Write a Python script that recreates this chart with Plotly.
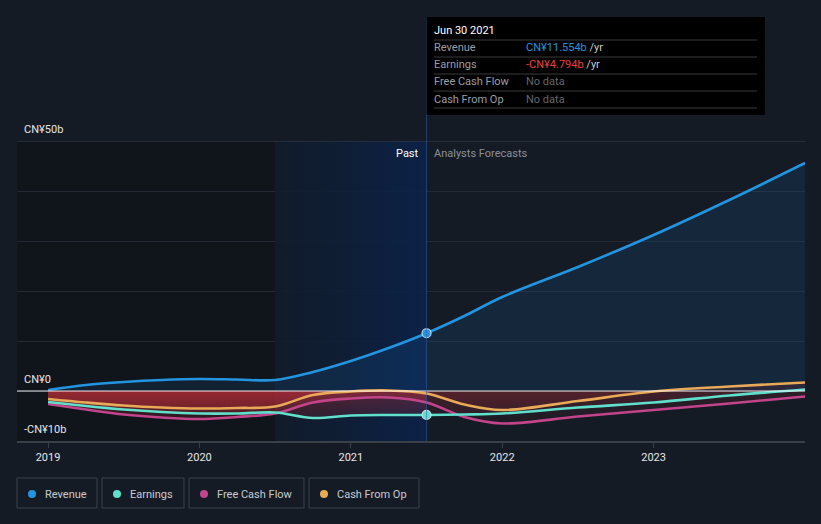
import plotly.graph_objects as go

# ---------------- data (CN¥ billions, decimal years) ----------------
past_x = [2019.0, 2019.25, 2019.5, 2019.75, 2020.0, 2020.25, 2020.5, 2020.75, 2021.0, 2021.25, 2021.5]
rev_past = [0.2, 1.2, 1.8, 2.2, 2.4, 2.3, 2.2, 3.8, 6.0, 8.6, 11.554]
earn_past = [-2.2, -3.0, -3.7, -4.2, -4.5, -4.5, -4.3, -5.4, -4.9, -4.8, -4.794]
fcf_past = [-2.6, -3.7, -4.7, -5.3, -5.6, -5.2, -4.5, -2.3, -1.5, -1.3, -2.3]
cfo_past = [-1.6, -2.3, -2.9, -3.3, -3.5, -3.4, -3.1, -0.8, -0.1, 0.1, -0.5]

fc_x = [2021.5, 2021.75, 2022.0, 2022.5, 2023.0, 2023.5, 2024.0]
rev_fc = [11.554, 15.0, 18.8, 24.8, 31.2, 38.2, 45.6]
earn_fc = [-4.794, -4.7, -4.5, -3.3, -2.3, -0.9, 0.3]
fcf_fc = [-2.3, -5.2, -6.5, -5.1, -3.8, -2.5, -1.1]
cfo_fc = [-0.5, -2.7, -3.8, -2.0, -0.1, 0.9, 1.7]

split_x = 2021.5
shade_start = 2020.5
x_range = [2018.795, 2024.0]
y_range = [-10, 50]
year_ticks = [2019, 2020, 2021, 2022, 2023]
y_labels = {50: "CN¥50b", 0: "CN¥0", -10: "-CN¥10b"}

names = ["Revenue", "Earnings", "Free Cash Flow", "Cash From Op"]
colors = ["#2394df", "#5fdfcc", "#c2448a", "#e8aa58"]

BG = "#151b25"
FONT = "Roboto"

# pixel helpers (plot area: x 17..805, y 141..441)
def px(xpix):
    return (xpix - 17) / 788.0

def py(ypix):
    return (441 - ypix) / 300.0

fig = go.Figure()

# blue gradient "last year" region
fig.add_trace(go.Scatter(
    x=[shade_start, split_x, split_x, shade_start, shade_start],
    y=[y_range[0], y_range[0], y_range[1], y_range[1], y_range[0]],
    mode="none", fill="toself",
    fillgradient=dict(type="horizontal", start=shade_start, stop=split_x,
                      colorscale=[[0, "rgba(16,27,42,0.85)"], [0.4, "rgba(14,30,54,0.85)"],
                                  [1, "rgba(10,34,74,0.9)"]]),
    hoverinfo="skip", showlegend=False))

# revenue area
fig.add_trace(go.Scatter(
    x=past_x + fc_x[1:], y=rev_past + rev_fc[1:], mode="none",
    fill="tozeroy", fillcolor="rgba(33,150,243,0.10)",
    line=dict(shape="spline", smoothing=1), hoverinfo="skip", showlegend=False))

# red negative fills
for xs, ys, a_hi, a_lo in [
    (past_x, earn_past, 0.38, 0.10), (past_x, fcf_past, 0.38, 0.10), (past_x, cfo_past, 0.38, 0.10),
    (fc_x, earn_fc, 0.14, 0.04), (fc_x, fcf_fc, 0.14, 0.04), (fc_x, cfo_fc, 0.14, 0.04)]:
    fig.add_trace(go.Scatter(
        x=xs, y=ys, mode="none", fill="tozeroy",
        line=dict(shape="spline", smoothing=1),
        fillgradient=dict(type="vertical", start=-7, stop=0,
                          colorscale=[[0, f"rgba(190,45,55,{a_lo})"], [1, f"rgba(190,45,55,{a_hi})"]]),
        hoverinfo="skip", showlegend=False))

# lines
series = [(rev_past, rev_fc), (earn_past, earn_fc), (fcf_past, fcf_fc), (cfo_past, cfo_fc)]
order = [3, 2, 1, 0]
for i in order:
    p, f = series[i]
    fig.add_trace(go.Scatter(
        x=past_x + fc_x[1:], y=p + f[1:], mode="lines",
        line=dict(color=colors[i], width=2.6, shape="spline", smoothing=1),
        name=names[i], hoverinfo="skip", showlegend=False))

# markers at split
for i in [1, 0]:
    fig.add_trace(go.Scatter(
        x=[split_x], y=[series[i][0][-1]], mode="markers",
        marker=dict(color=colors[i], size=9, line=dict(color="rgba(220,235,245,0.85)", width=1.2)),
        hoverinfo="skip", showlegend=False))

shapes = []
annotations = []

# dark past region
shapes.append(dict(type="rect", xref="x", yref="paper", x0=x_range[0], x1=shade_start, y0=0, y1=1,
                   fillcolor="rgba(0,0,0,0.22)", line=dict(width=0), layer="below"))
# top border line
shapes.append(dict(type="line", xref="paper", yref="y", x0=0, x1=1, y0=y_range[1], y1=y_range[1],
                   line=dict(color="#3b414b", width=1)))
# zero line
shapes.append(dict(type="line", xref="paper", yref="y", x0=0, x1=1, y0=0, y1=0,
                   line=dict(color="rgba(255,255,255,0.9)", width=1.2)))
# vertical split line
shapes.append(dict(type="line", xref="x", yref="paper", x0=split_x, x1=split_x, y0=0, y1=py(17),
                   line=dict(color="rgba(45,95,165,0.55)", width=1)))

# tooltip box
shapes.append(dict(type="rect", xref="x", yref="paper", x0=split_x,
                   x1=x_range[0] + (765 - 17) / 788.0 * (x_range[1] - x_range[0]),
                   y0=py(115), y1=py(17), fillcolor="#000000", line=dict(width=0)))
for yy in [40, 57, 74, 91, 108]:
    shapes.append(dict(type="line", xref="paper", yref="paper", x0=px(434), x1=px(757), y0=py(yy), y1=py(yy),
                       line=dict(color="#3a3a3a", width=1)))

annotations.append(dict(xref="paper", yref="paper", x=px(432), y=py(31), text="Jun 30 2021",
                        showarrow=False, xanchor="left", yanchor="middle",
                        font=dict(family=FONT, size=11, color="#ffffff")))
rows = [
    ("Revenue", f"<span style='color:#2394df'>CN¥{rev_past[-1]:.3f}b</span> /yr"),
    ("Earnings", f"<span style='color:#e8403a'>-CN¥{abs(earn_past[-1]):.3f}b</span> /yr"),
    ("Free Cash Flow", "<span style='color:#62676e'>No data</span>"),
    ("Cash From Op", "<span style='color:#62676e'>No data</span>"),
]
for k, (lab, val) in enumerate(rows):
    yy = py(48 + 17 * k)
    annotations.append(dict(xref="paper", yref="paper", x=px(432), y=yy, text=lab, showarrow=False,
                            xanchor="left", yanchor="middle", font=dict(family=FONT, size=11, color="#9a9ea4")))
    annotations.append(dict(xref="paper", yref="paper", x=px(524), y=yy, text=val, showarrow=False,
                            xanchor="left", yanchor="middle", font=dict(family=FONT, size=11, color="#c8ccd0")))

# Past / Analysts Forecasts
annotations.append(dict(xref="x", yref="paper", x=split_x, y=py(153), text="Past", showarrow=False,
                        xanchor="right", yanchor="middle", xshift=-6,
                        font=dict(family=FONT, size=11, color="#ffffff")))
annotations.append(dict(xref="x", yref="paper", x=split_x, y=py(153), text="Analysts Forecasts", showarrow=False,
                        xanchor="left", yanchor="middle", xshift=5,
                        font=dict(family=FONT, size=11, color="#8a9098")))

# y labels
for v, t in y_labels.items():
    annotations.append(dict(xref="paper", yref="y", x=px(22), y=v, text=t, showarrow=False,
                            xanchor="left", yanchor="bottom", yshift=3,
                            font=dict(family=FONT, size=11, color="#e6e6e6")))

# legend
boxes = [(17, 97), (102, 184), (189, 304), (309, 419)]
for i, (x0, x1) in enumerate(boxes):
    shapes.append(dict(type="rect", xref="paper", yref="paper", x0=px(x0), x1=px(x1), y0=py(508), y1=py(478),
                       fillcolor="rgba(0,0,0,0)", line=dict(color="#3c424c", width=1)))
    cx = x0 + 15
    shapes.append(dict(type="circle", xref="paper", yref="paper", x0=px(cx - 4), x1=px(cx + 4),
                       y0=py(498), y1=py(490), fillcolor=colors[i], line=dict(width=0)))
    annotations.append(dict(xref="paper", yref="paper", x=px(cx + 11), y=py(494), text=names[i],
                            showarrow=False, xanchor="left", yanchor="middle",
                            font=dict(family=FONT, size=11, color="#c8ccd0")))

fig.update_layout(
    width=821, height=524,
    margin=dict(l=17, r=16, t=141, b=83),
    paper_bgcolor=BG, plot_bgcolor=BG,
    showlegend=False,
    shapes=shapes, annotations=annotations,
    xaxis=dict(range=x_range, showgrid=False, zeroline=False, tickmode="array",
               tickvals=year_ticks, ticktext=[str(y) for y in year_ticks],
               ticks="outside", ticklen=5, tickcolor="#3a4048", showline=True,
               linecolor="#3a4048", linewidth=1.5,
               tickfont=dict(family=FONT, size=11, color="#e6e6e6")),
    yaxis=dict(range=y_range, dtick=10, tick0=0, showgrid=True, gridcolor="#232a35", gridwidth=1,
               zeroline=False, showticklabels=False),
)

fig.write_html("out.html", config={"displayModeBar": False},
               post_script="document.body.style.margin='0';document.body.style.overflow='hidden';document.body.style.background='#151b25';")
